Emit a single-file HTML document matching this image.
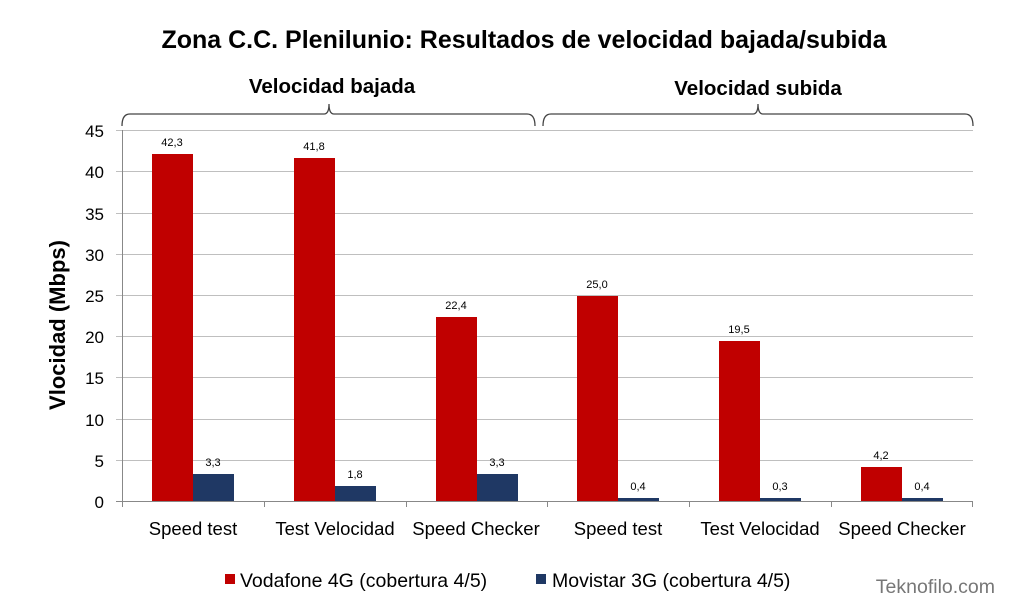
<!DOCTYPE html>
<html><head><meta charset="utf-8"><style>
body{margin:0;background:#fff;}
svg{display:block;font-family:"Liberation Sans","DejaVu Sans",sans-serif;}
</style></head><body>
<svg width="1013" height="608" viewBox="0 0 1013 608">
<rect width="1013" height="608" fill="#fff"/>
<text x="524" y="48" text-anchor="middle" font-size="25" font-weight="bold" fill="#000">Zona C.C. Plenilunio: Resultados de velocidad bajada/subida</text>
<text x="332" y="93" text-anchor="middle" font-size="20.5" font-weight="bold">Velocidad bajada</text>
<text x="758" y="95" text-anchor="middle" font-size="20.5" font-weight="bold">Velocidad subida</text>
<g fill="none" stroke="#444" stroke-width="1.3">
<path d="M122,126 Q122,114 130,114 L324,114 Q329,114 329,104 Q329,114 334,114 L527,114 Q535,114 535,126"/>
<path d="M543,126 Q543,114 551,114 L753,114 Q758,114 758,104 Q758,114 763,114 L965,114 Q973,114 973,126"/>
</g>
<g stroke="#bfbfbf" stroke-width="1">
<line x1="116" y1="130.5" x2="973" y2="130.5"/>
<line x1="116" y1="171.5" x2="973" y2="171.5"/>
<line x1="116" y1="213.5" x2="973" y2="213.5"/>
<line x1="116" y1="254.5" x2="973" y2="254.5"/>
<line x1="116" y1="295.5" x2="973" y2="295.5"/>
<line x1="116" y1="336.5" x2="973" y2="336.5"/>
<line x1="116" y1="377.5" x2="973" y2="377.5"/>
<line x1="116" y1="419.5" x2="973" y2="419.5"/>
<line x1="116" y1="460.5" x2="973" y2="460.5"/>
</g>
<g stroke="#888" stroke-width="1">
<line x1="122.5" y1="130" x2="122.5" y2="507"/>
<line x1="116" y1="501.5" x2="973" y2="501.5"/>
<line x1="264.5" y1="501" x2="264.5" y2="507"/>
<line x1="406.5" y1="501" x2="406.5" y2="507"/>
<line x1="547.5" y1="501" x2="547.5" y2="507"/>
<line x1="689.5" y1="501" x2="689.5" y2="507"/>
<line x1="831.5" y1="501" x2="831.5" y2="507"/>
<line x1="972.5" y1="501" x2="972.5" y2="507"/>
</g>
<g font-size="17" text-anchor="end" fill="#000">
<text x="104" y="137">45</text><text x="104" y="178">40</text><text x="104" y="220">35</text>
<text x="104" y="261">30</text><text x="104" y="302">25</text><text x="104" y="343">20</text>
<text x="104" y="384">15</text><text x="104" y="426">10</text><text x="104" y="467">5</text><text x="104" y="508">0</text>
</g>
<text transform="translate(65,325) rotate(-90)" text-anchor="middle" font-size="22" font-weight="bold">Vlocidad (Mbps)</text>
<g fill="#c00000">
<rect x="152" y="154" width="41" height="347"/>
<rect x="294" y="158" width="41" height="343"/>
<rect x="436" y="317" width="41" height="184"/>
<rect x="577" y="296" width="41" height="205"/>
<rect x="719" y="341" width="41" height="160"/>
<rect x="861" y="467" width="41" height="34"/>
</g>
<g fill="#1f3864">
<rect x="193" y="474" width="41" height="27"/>
<rect x="335" y="486" width="41" height="15"/>
<rect x="477" y="474" width="41" height="27"/>
<rect x="618" y="498" width="41" height="3"/>
<rect x="760" y="498" width="41" height="3"/>
<rect x="902" y="498" width="41" height="3"/>
</g>
<g font-size="11" text-anchor="middle" fill="#000">
<text x="172" y="146">42,3</text><text x="314" y="150">41,8</text><text x="456" y="309">22,4</text>
<text x="597" y="288">25,0</text><text x="739" y="333">19,5</text><text x="881" y="459">4,2</text>
<text x="213" y="466">3,3</text><text x="355" y="478">1,8</text><text x="497" y="466">3,3</text>
<text x="638" y="490">0,4</text><text x="780" y="490">0,3</text><text x="922" y="490">0,4</text>
</g>
<g font-size="18.5" text-anchor="middle" fill="#000">
<text x="193" y="535">Speed test</text><text x="335" y="535">Test Velocidad</text><text x="476" y="535">Speed Checker</text>
<text x="618" y="535">Speed test</text><text x="760" y="535">Test Velocidad</text><text x="902" y="535">Speed Checker</text>
</g>
<rect x="225" y="574" width="10" height="10" fill="#c00000"/>
<text x="240" y="587" font-size="19.5">Vodafone 4G (cobertura 4/5)</text>
<rect x="536" y="574" width="10" height="10" fill="#1f3864"/>
<text x="552" y="587" font-size="19.5">Movistar 3G (cobertura 4/5)</text>
<text x="995" y="593" text-anchor="end" font-size="19.5" fill="#777">Teknofilo.com</text>
</svg>
</body></html>
